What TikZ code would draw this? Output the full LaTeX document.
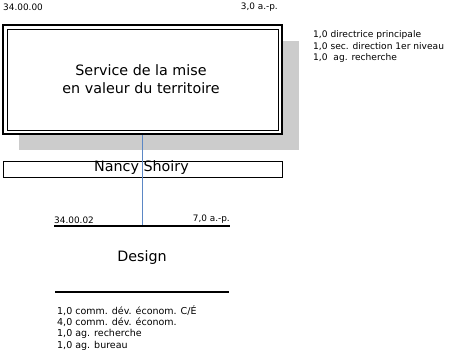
\documentclass[tikz,border=0pt]{standalone}
\usepackage{fontspec}
\setmainfont{DejaVu Sans}
\definecolor{linkblue}{RGB}{91,135,197}
\definecolor{shadowgray}{RGB}{204,204,204}
\tikzset{
  small/.style={inner sep=0pt, font=\fontsize{8.9}{10}\selectfont},
  staff/.style={inner sep=0pt, font=\fontsize{9.5}{10}\selectfont},
  sidestaff/.style={inner sep=0pt, font=\fontsize{9.1}{10}\selectfont},
  title/.style={inner sep=0pt, font=\fontsize{14.3}{18}\selectfont, align=center},
  unitbox/.style={draw, fill=white, line width=1.6pt, minimum width=279pt, minimum height=109pt, inner sep=0pt},
  innerframe/.style={draw, line width=1pt, minimum width=271pt, minimum height=101pt, inner sep=0pt},
  namebox/.style={draw, line width=1pt, minimum width=279pt, minimum height=16pt, inner sep=0pt},
  link/.style={draw=linkblue, line width=1.5pt},
  rule/.style={line width=1.1pt}
}
\begin{document}
\begin{tikzpicture}[x=1pt,y=-1pt]
\useasboundingbox (0,0) rectangle (450,354);
% shadow behind the service box
\fill[shadowgray] (19,41) rectangle (299,150);
% service box with double frame
\node[unitbox] (svc) at (142.5,79.5) {};
\node[innerframe] (svcin) at (svc.center) {};
\node[title] (svctext) at (141,79) {Service de la mise\\en valeur du territoire};
% header labels
\node[small, anchor=west] (code0) at (3,7) {34.00.00};
\node[small, anchor=east] (ap0) at (278,7) {3,0 a.-p.};
% staffing of the service
\node[sidestaff, anchor=west] (r1) at (313,35) {1,0 directrice principale};
\node[sidestaff, anchor=west] (r2) at (313,46.5) {1,0 sec. direction 1er niveau};
\node[sidestaff, anchor=west] (r3) at (313,58) {1,0\ \ ag. recherche};
% director
\node[namebox] (nancy) at (142.5,169) {};
% sub-unit header
\coordinate (ulL) at (54,226);
\coordinate (ulR) at (230,226);
\coordinate (ulM) at (142.7,226);
\draw[link] (svc.south -| ulM) -- (ulM);
\node[title, inner sep=0pt] (nancytext) at (141.5,168) {Nancy Shoiry};
\draw[rule] (ulL) -- (ulR);
\node[small, anchor=south west] (code2) at (54,223.5) {34.00.02};
\node[small, anchor=south east] (ap2) at (230,223.5) {7,0 a.-p.};
\node[title] (design) at (142,258) {Design};
\coordinate (dlL) at (55,292);
\coordinate (dlR) at (229,292);
\draw[rule] (dlL) -- (dlR);
% staffing of the sub-unit
\node[staff, anchor=west] (d1) at (57,311) {1,0 comm. dév. économ. C/É};
\node[staff, anchor=west] (d2) at (57,322.5) {4,0 comm. dév. économ.};
\node[staff, anchor=west] (d3) at (57,334) {1,0 ag. recherche};
\node[staff, anchor=west] (d4) at (57,345.5) {1,0 ag. bureau};
\end{tikzpicture}
\end{document}
